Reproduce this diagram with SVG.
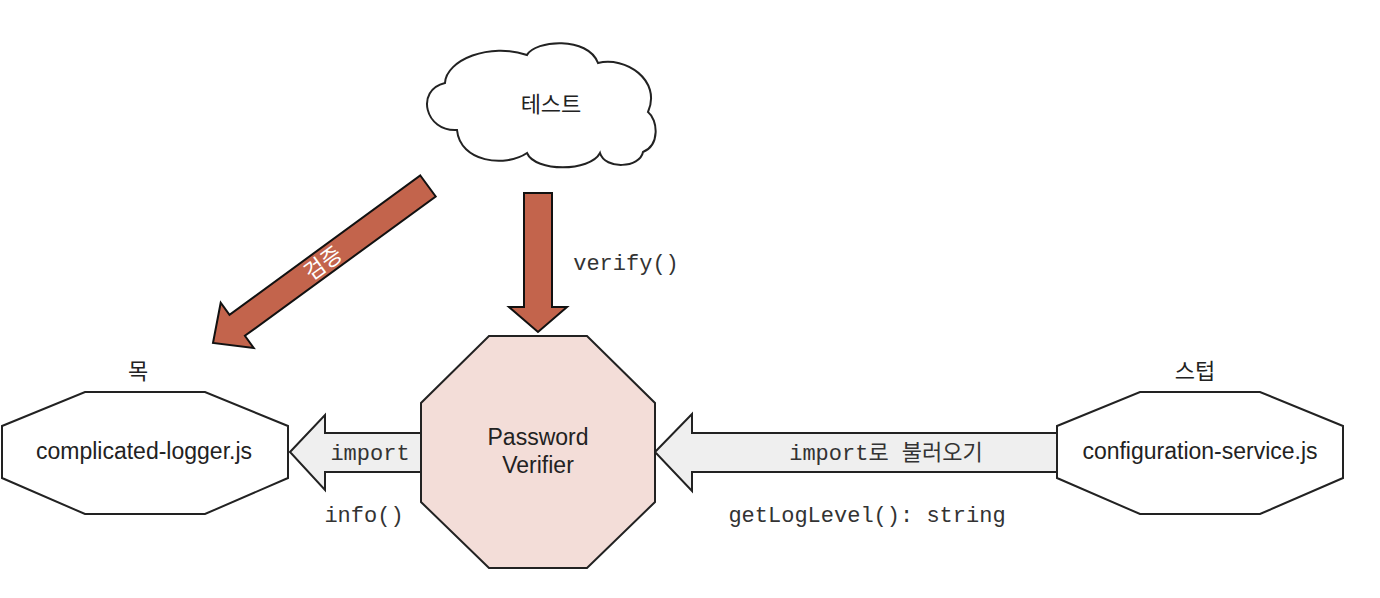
<svg xmlns="http://www.w3.org/2000/svg" width="1380" height="598" viewBox="0 0 1380 598">
<style>
.node{stroke:#222;stroke-width:2;stroke-linejoin:miter}
.sans{font-family:"Liberation Sans","Noto Sans CJK KR",sans-serif;font-size:23px;fill:#222;text-anchor:middle}
.mono{font-family:"Liberation Mono","Noto Sans CJK KR",monospace;font-size:22px;fill:#333;text-anchor:middle}
.kr{font-family:"Noto Sans CJK KR",sans-serif;font-size:22px;fill:#222;text-anchor:middle}
.red{fill:#c3644c;stroke:#111;stroke-width:2;stroke-linejoin:miter}
.gray{fill:#efefef;stroke:#222;stroke-width:2;stroke-linejoin:miter}
</style>
<rect width="1380" height="598" fill="#fff"/>
<g id="connectors">
  <g id="verify-arrow">
    <polygon class="red" points="524,193 552,193 552,307 567,307 538,332 509,307 524,307"/>
    <text class="mono" x="626" y="270">verify()</text>
  </g>
  <g id="mock-verify-arrow">
    <polygon class="red" points="420.3,175.5 435.7,196.5 244.9,335.8 253.7,347.9 213,343 220.7,302.7 229.5,314.8"/>
    <text class="kr" x="323" y="271" style="fill:#fff" transform="rotate(-36 323 263)">검증</text>
  </g>
  <g id="import-left">
    <polygon class="gray" points="290,452 325,415 325,433 421,433 421,472 325,472 325,490"/>
    <text class="mono" x="370" y="460">import</text>
    <text class="mono" x="364" y="522">info()</text>
  </g>
  <g id="import-right">
    <polygon class="gray" points="655,452 692,414 692,433 1057,433 1057,472 692,472 692,491"/>
    <text class="mono" x="886" y="460">import로 불러오기</text>
    <text class="mono" x="867" y="522">getLogLevel(): string</text>
  </g>
</g>
<g id="test">
  <path class="node" fill="#fff" d="M445,83 C446,60 490,42 527,55 C535,40 588,36 598,63 C625,56 662,80 648,112 C658,120 660,145 643,152 C640,168 605,170 600,153 C590,172 535,172 527,153 C505,168 460,162 457,130 C425,132 415,90 445,83 Z"/>
  <text class="kr" x="551" y="112">테스트</text>
</g>
<g id="logger">
  <polygon class="node" fill="#fff" points="85,392 205,392 288,426 288,478 205,514 85,514 2,478 2,426"/>
  <text class="sans" x="144" y="459">complicated-logger.js</text>
  <text class="kr" x="138" y="379">목</text>
</g>
<g id="verifier">
  <polygon class="node" fill="#f3ddd8" points="489,336 587,336 655,403 655,502 587,568 489,568 421,502 421,403"/>
  <text class="sans" x="538" y="445">Password</text>
  <text class="sans" x="538" y="473">Verifier</text>
</g>
<g id="config">
  <polygon class="node" fill="#fff" points="1140,392 1260,392 1343,426 1343,478 1260,514 1140,514 1057,478 1057,426"/>
  <text class="sans" x="1200" y="459">configuration-service.js</text>
  <text class="kr" x="1195" y="379">스텁</text>
</g>
</svg>
